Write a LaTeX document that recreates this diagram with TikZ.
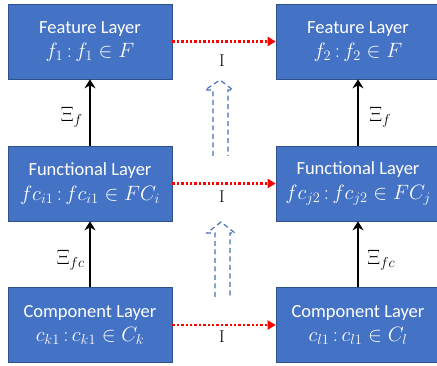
\documentclass[tikz,border=0pt]{standalone}
\usepackage{fontspec}
\setmainfont{Carlito}
\newfontfamily\lmserif{Latin Modern Roman}
\usetikzlibrary{arrows.meta}
\definecolor{boxblue}{HTML}{4472C4}
\definecolor{boxedge}{HTML}{2F528F}
\definecolor{dashblue}{HTML}{4A6FB5}
\newcommand{\mline}[1]{{\fontsize{20.5}{24}\selectfont$#1$}}
\tikzset{
  layer/.style={draw=boxedge, line width=0.6pt, fill=boxblue, text=white,
    minimum width=164pt, minimum height=75pt, inner sep=0pt, align=center,
    font=\fontsize{18.5}{24.5}\selectfont},
  relarrow/.style={draw=red, line width=2.4pt, dotted, -{Triangle[length=8pt,width=9pt]}},
  maparrow/.style={draw=black, line width=2.6pt, -{Stealth[length=9pt,width=11pt]}},
  lbl/.style={font=\fontsize{19.5}{19.5}\selectfont, inner sep=1pt},
  ilbl/.style={font=\lmserif\fontsize{17}{17}\selectfont, inner sep=1pt},
  hollow/.style={draw=dashblue, line width=1.2pt, dash pattern=on 5pt off 3.5pt}
}
\begin{document}
\begin{tikzpicture}[x=1pt,y=-1pt]
\useasboundingbox (0,0) rectangle (437,366);
\clip (0,0) rectangle (437,366);
\node[layer] (f1)  at (90,41.5)   {Feature Layer\\\mline{f_1\,{:}\,f_1\in F}};
\node[layer] (fc1) at (90,183.5)  {Functional Layer\\\mline{fc_{i1}\,{:}\,fc_{i1}\in FC_i}};
\node[layer] (c1)  at (90,325)    {Component Layer\\\mline{c_{k1}\,{:}\,c_{k1}\in C_k}};
\node[layer] (f2)  at (358,41.5)  {Feature Layer\\\mline{f_2\,{:}\,f_2\in F}};
\node[layer] (fc2) at (358,183.5) {Functional Layer\\\mline{fc_{j2}\,{:}\,fc_{j2}\in FC_j}};
\node[layer] (c2)  at (358,325)   {Component Layer\\\mline{c_{l1}\,{:}\,c_{l1}\in C_l}};

\draw[relarrow] (f1.east) -- node[ilbl, pos=0.48, below=11pt] {I} (f2.west);
\draw[relarrow] (fc1.east) -- node[ilbl, pos=0.48, below=5pt] {I} (fc2.west);
\draw[relarrow] (c1.east) -- node[ilbl, pos=0.48, below=4pt] {I} (c2.west);

\draw[maparrow] (fc1.north) -- node[lbl, left=5pt, yshift=-5pt] {$\Xi_f$} (f1.south);
\draw[maparrow] (c1.north) -- node[lbl, left=3pt, yshift=-6pt] {$\Xi_{fc}$} (fc1.south);
\draw[maparrow] (fc2.north) -- node[lbl, right=9pt, yshift=-5pt] {$\Xi_f$} (f2.south);
\draw[maparrow] (c2.north) -- node[lbl, right=7pt, yshift=-6pt] {$\Xi_{fc}$} (fc2.south);

\draw[hollow] (213,156) -- (213,90) -- (205,90) -- (220,80) -- (233,90) -- (228,90) -- (228,156);
\draw[hollow] (215,297) -- (215,233) -- (207,233) -- (221,222) -- (235,233) -- (230,233) -- (230,297);
\end{tikzpicture}
\end{document}
